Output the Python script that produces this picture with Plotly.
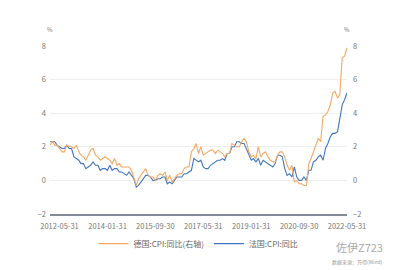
import pandas as pd
import plotly.graph_objects as go

months = pd.date_range("2012-01-31", "2022-05-31", freq="ME").strftime("%Y-%m-%d").tolist()

germany_cpi = [
    2.1, 2.3, 2.1, 2.1, 1.9, 1.7, 1.7, 2.1, 2.0, 2.0, 1.9, 2.1,
    1.7, 1.5, 1.4, 1.2, 1.5, 1.8, 1.9, 1.5, 1.4, 1.2, 1.3, 1.4,
    1.3, 1.2, 1.0, 1.3, 0.9, 1.0, 0.8, 0.8, 0.8, 0.8, 0.6, 0.2,
    -0.3, 0.1, 0.3, 0.5, 0.7, 0.3, 0.2, 0.2, 0.0, 0.3, 0.4, 0.3,
    0.5, 0.0, 0.3, -0.1, 0.1, 0.3, 0.4, 0.4, 0.7, 0.8, 0.8, 1.7,
    1.9, 2.2, 1.6, 2.0, 1.5, 1.6, 1.7, 1.8, 1.8, 1.6, 1.8, 1.7,
    1.6, 1.4, 1.6, 1.6, 2.2, 2.1, 2.0, 2.0, 2.3, 2.5, 2.3, 1.7,
    1.4, 1.5, 1.3, 2.0, 1.4, 1.6, 1.7, 1.4, 1.2, 1.1, 1.1, 1.5,
    1.7, 1.7, 1.4, 0.9, 0.6, 0.9, -0.1, 0.0, -0.2, -0.2, -0.3, -0.3,
    1.0, 1.3, 1.7, 2.0, 2.5, 2.3, 3.8, 3.9, 4.1, 4.5, 5.2, 5.3,
    4.9, 5.1, 7.3, 7.4, 7.9,
]

france_cpi = [
    2.3, 2.3, 2.3, 2.1, 2.0, 1.9, 1.9, 2.1, 1.9, 1.9, 1.4, 1.3,
    1.2, 1.0, 1.0, 0.7, 0.8, 0.9, 1.1, 0.9, 0.9, 0.6, 0.7, 0.7,
    0.6, 0.9, 0.6, 0.7, 0.7, 0.5, 0.5, 0.4, 0.3, 0.5, 0.3, 0.1,
    -0.4, -0.3, -0.1, 0.1, 0.3, 0.3, 0.2, 0.0, 0.0, 0.1, 0.1, 0.2,
    0.2, -0.2, -0.1, -0.2, 0.0, 0.2, 0.2, 0.2, 0.4, 0.4, 0.5, 0.6,
    1.3, 1.2, 1.1, 1.2, 0.8, 0.7, 0.7, 0.9, 1.0, 1.1, 1.2, 1.2,
    1.3, 1.2, 1.6, 1.6, 2.0, 2.0, 2.3, 2.3, 2.2, 2.2, 1.9, 1.6,
    1.2, 1.3, 1.1, 1.3, 0.9, 1.2, 1.1, 1.0, 0.9, 0.8, 1.0, 1.5,
    1.5, 1.4, 0.7, 0.3, 0.4, 0.2, 0.8, 0.2, 0.0, 0.0, 0.2, 0.0,
    0.6, 0.6, 1.1, 1.2, 1.4, 1.5, 1.2, 1.9, 2.2, 2.6, 2.8, 2.8,
    2.9, 3.6, 4.5, 4.8, 5.2,
]

tick_dates = ["2012-05-31", "2014-01-31", "2015-09-30", "2017-05-31",
              "2019-01-31", "2020-09-30", "2022-05-31"]
y_ticks = [-2, 0, 2, 4, 6, 8]

name_de = "德国:CPI:同比(右轴)"
name_fr = "法国:CPI:同比"

FONT = "Noto Sans CJK SC"

fig = go.Figure()
fig.add_trace(go.Scatter(x=months, y=germany_cpi, name=name_de, mode="lines",
                         line=dict(color="#f4a862", width=1.1), yaxis="y2"))
fig.add_trace(go.Scatter(x=months, y=france_cpi, name=name_fr, mode="lines",
                         line=dict(color="#4275bf", width=1.1), yaxis="y"))

fig.update_layout(
    width=400, height=270,
    margin=dict(l=50, r=53, t=46, b=50),
    paper_bgcolor="white", plot_bgcolor="white",
    font=dict(family=FONT, size=8, color="#666666"),
    showlegend=True,
    legend=dict(orientation="h", x=0.5, xanchor="center", y=-0.09, yanchor="top",
                font=dict(size=8, color="#666666"), itemwidth=30,
                bgcolor="rgba(0,0,0,0)"),
    xaxis=dict(type="date", range=["2012-01-31", "2022-05-31"],
               tickvals=tick_dates, ticktext=tick_dates,
               showgrid=False, showline=True, linecolor="#858a99", linewidth=1.5,
               ticks="", ticklabelstandoff=4,
               tickfont=dict(size=7.5, color="#777777"), zeroline=False),
    yaxis=dict(range=[-2, 8], tickvals=y_ticks, showgrid=True, gridcolor="#eeeeee",
               gridwidth=1, zeroline=False, ticks="", showline=False,
               ticklabelstandoff=3,
               tickfont=dict(size=7.5, color="#777777")),
    yaxis2=dict(range=[-2, 8], tickvals=y_ticks, overlaying="y", side="right",
                showgrid=False, zeroline=False, ticks="", showline=False,
                ticklabelstandoff=5,
                tickfont=dict(size=7.5, color="#777777")),
)

fig.add_annotation(text="%", xref="paper", yref="paper", x=0.0, y=1.0,
                   yshift=10, xanchor="center", yanchor="bottom", showarrow=False,
                   font=dict(size=6, color="#777777"))
fig.add_annotation(text="%", xref="paper", yref="paper", x=1.0, y=1.0,
                   yshift=10, xanchor="center", yanchor="bottom", showarrow=False,
                   font=dict(size=6, color="#777777"))
fig.add_annotation(text="佐伊Z723", xref="paper", yref="paper", x=1.0, y=0,
                   xshift=38, yshift=-33, xanchor="right", yanchor="middle",
                   showarrow=False, font=dict(size=11, color="#aaaaaa"))
fig.add_annotation(text="数据来源：万得(Wind)", xref="paper", yref="paper", x=1.0, y=0,
                   xshift=38, yshift=-42, xanchor="right", yanchor="top",
                   showarrow=False, font=dict(size=5, color="#999999"))

fig.write_html("out.html")
